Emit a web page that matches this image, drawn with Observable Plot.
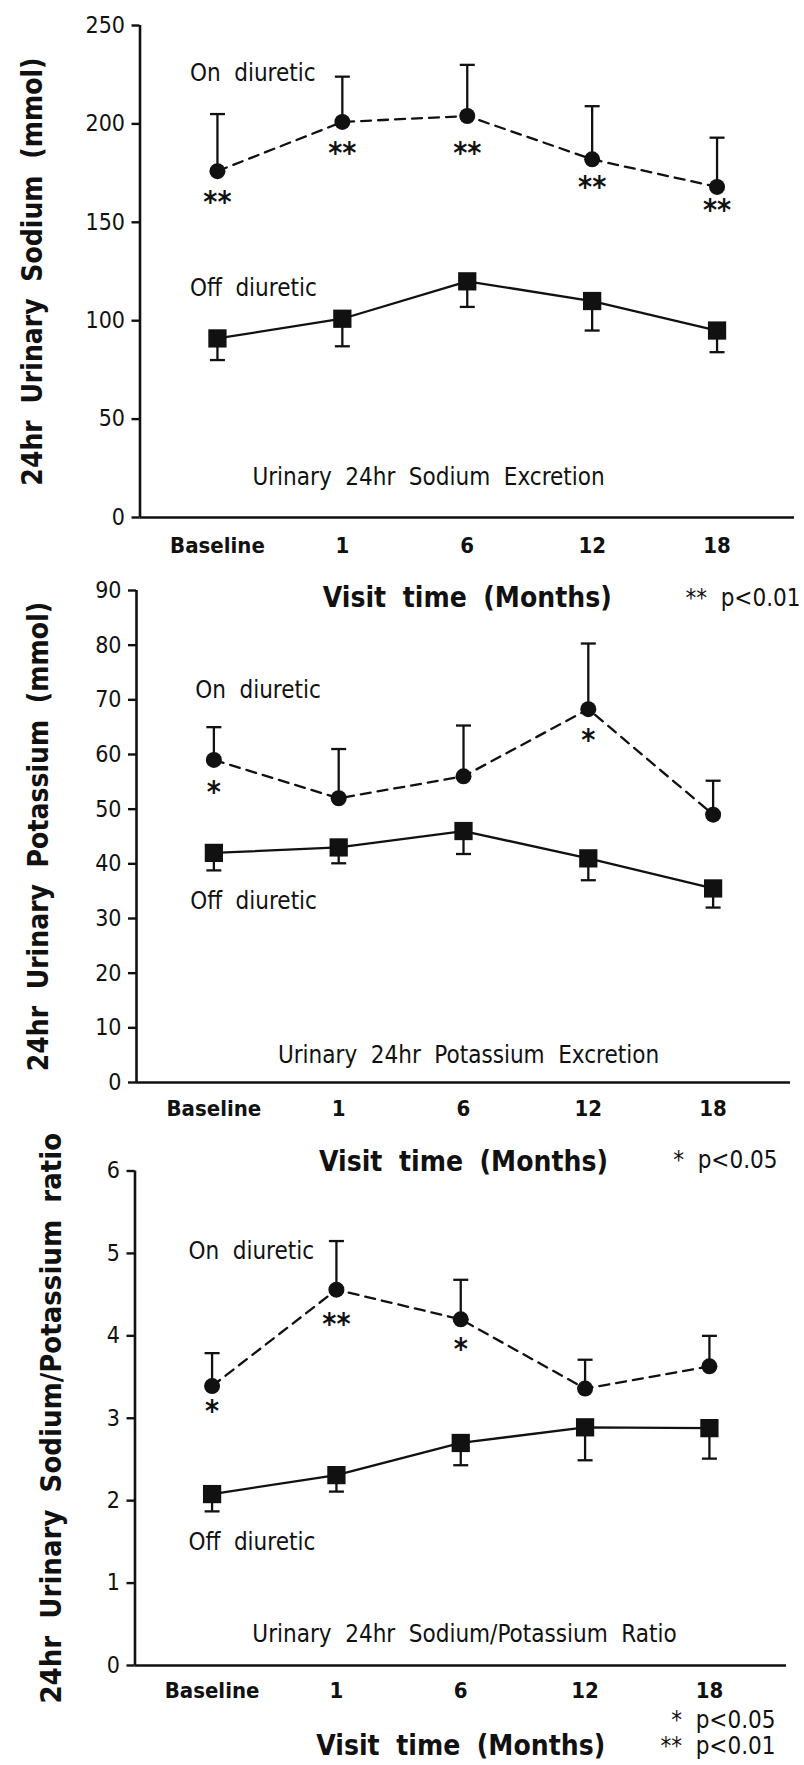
<!DOCTYPE html>
<html><head><meta charset="utf-8">
<script src="https://cdn.jsdelivr.net/npm/d3@7"></script>
<script src="https://cdn.jsdelivr.net/npm/@observablehq/plot@0.6"></script>
<style>
html,body{margin:0;padding:0;background:#fff;}
#wrap{position:relative;width:804px;height:1765px;overflow:hidden;background:#fff;}
#wrap svg{position:absolute;left:0;}
#wrap svg text{word-spacing:0.28em;}
</style></head><body><div id="wrap"></div>
<script>
// ---- categories ----
const months = ["Baseline", "1", "6", "12", "18"];

// ---- Sodium (mmol) ----
const sodiumOn = [176, 201, 204, 182, 168];
const sodiumOnSE = [205, 224, 230, 209, 193];
const sodiumOff = [91, 101, 120, 110, 95];
const sodiumOffSE = [80, 87, 107, 95, 84];
const sodiumSig = ["**", "**", "**", "**", "**"];
const sodiumSigY = [161, 186, 186, 169, 157];
const sodiumTicks = [0, 50, 100, 150, 200, 250];

// ---- Potassium (mmol) ----
const potassiumOn = [59, 52, 56, 68.3, 49];
const potassiumOnSE = [65, 61, 65.3, 80.3, 55.2];
const potassiumOff = [42, 43, 46, 41, 35.5];
const potassiumOffSE = [38.8, 40.1, 41.8, 37, 32];
const potassiumSig = ["*", "", "", "*", ""];
const potassiumSigY = [53.4, null, null, 63, null];
const potassiumTicks = [0, 10, 20, 30, 40, 50, 60, 70, 80, 90];

// ---- Sodium/Potassium ratio ----
const ratioOn = [3.39, 4.56, 4.2, 3.36, 3.63];
const ratioOnSE = [3.79, 5.15, 4.68, 3.71, 4.0];
const ratioOff = [2.08, 2.31, 2.7, 2.89, 2.88];
const ratioOffSE = [1.87, 2.11, 2.43, 2.49, 2.51];
const ratioSig = ["*", "**", "*", "", ""];
const ratioSigY = [3.11, 4.16, 3.86, null, null];
const ratioTicks = [0, 1, 2, 3, 4, 5, 6];

// ---- texts ----
const xTitle = "Visit time (Months)";
const seriesNames = ["On diuretic", "Off diuretic"];
const noteP05 = "* p<0.05";
const noteP01 = "** p<0.01";

const FONT = '"Liberation Sans Narrow","DejaVu Sans Condensed","Roboto Condensed","Liberation Sans",Arial,sans-serif';
const INK = "#111";
const xPad = 0.62;
const capSymbol = {draw(ctx, size) { const r = Math.sqrt(size / Math.PI); ctx.moveTo(-r, 0); ctx.lineTo(r, 0); }};

function panel(cfg) {
  const rows = months.map((m, i) => ({i, on: cfg.on[i], onSE: cfg.onSE[i], off: cfg.off[i], offSE: cfg.offSE[i]}));
  const sig = cfg.sig.map((s, i) => ({i, s, y: cfg.sigY[i]})).filter(d => d.s);
  const yMax = cfg.ticks[cfg.ticks.length - 1];
  const plot = Plot.plot({
    width: 804, height: cfg.height,
    marginTop: cfg.mt, marginBottom: cfg.mb, marginLeft: cfg.ml, marginRight: cfg.mr,
    style: {fontFamily: FONT, background: "transparent", overflow: "visible", color: INK},
    x: {domain: [-xPad, 4 + xPad]},
    y: {domain: [0, yMax]},
    marks: [
      Plot.axisY({ticks: cfg.ticks, tickFormat: d => String(d), tickSize: 8, tickPadding: 7, strokeWidth: 2.4, fontSize: 23, label: null}),
      Plot.axisX({ticks: [0, 1, 2, 3, 4], tickFormat: i => months[i], tickSize: 0, tickPadding: cfg.xtp, fontSize: 22, fontWeight: 600, label: null}),
      Plot.ruleY([0], {strokeWidth: 2.6}),
      Plot.ruleX([-xPad], {y1: 0, y2: yMax, strokeWidth: 2.6}),
      // error bars
      Plot.ruleX(rows, {x: "i", y1: "on", y2: "onSE", strokeWidth: 2.3}),
      Plot.dot(rows, {x: "i", y: "onSE", symbol: capSymbol, r: 7.5, stroke: INK, fill: "none", strokeWidth: 2.3}),
      Plot.ruleX(rows, {x: "i", y1: "off", y2: "offSE", strokeWidth: 2.3}),
      Plot.dot(rows, {x: "i", y: "offSE", symbol: capSymbol, r: 7.5, stroke: INK, fill: "none", strokeWidth: 2.3}),
      // series
      Plot.lineY(rows, {x: "i", y: "on", strokeWidth: 2.3, strokeDasharray: "10,7"}),
      Plot.lineY(rows, {x: "i", y: "off", strokeWidth: 2.3}),
      Plot.dot(rows, {x: "i", y: "on", r: 8, fill: INK}),
      Plot.dot(rows, {x: "i", y: "off", symbol: "square", r: 10.3, fill: INK}),
      // significance
      Plot.text(sig, {x: "i", y: "y", text: "s", fontSize: 30, fontWeight: "bold", dy: 2}),
      // series labels
      Plot.text(cfg.labels, {x: "x", y: "y", text: "t", textAnchor: "start", fontSize: 24}),
      // panel title
      Plot.text([cfg.title], {x: cfg.titleX, y: cfg.titleY, text: d => d, fontSize: 24}),
      // y title
      Plot.text([cfg.yTitle], {frameAnchor: "left", text: d => d, rotate: -90, dx: cfg.yTitleDx, textAnchor: "middle", lineAnchor: "middle", fontSize: cfg.yTitleSize, fontWeight: "bold"}),
      // x title
      Plot.text([xTitle], {frameAnchor: "bottom", text: d => d, dy: cfg.xTitleDy, lineAnchor: "middle", textAnchor: "middle", fontSize: 28, fontWeight: "bold"}),
      // p-value notes
      ...cfg.notes.map(n => Plot.text([n.t], {frameAnchor: "bottom-right", text: d => d, dy: n.dy, dx: cfg.noteDx, textAnchor: "end", lineAnchor: "middle", fontSize: 24}))
    ]
  });
  plot.style.top = cfg.top + "px";
  document.getElementById("wrap").appendChild(plot);
}

panel({
  top: 0, height: 640, mt: 25, mb: 123, ml: 139.5, mr: 10, xtp: 20,
  on: sodiumOn, onSE: sodiumOnSE, off: sodiumOff, offSE: sodiumOffSE,
  sig: sodiumSig, sigY: sodiumSigY, ticks: sodiumTicks,
  labels: [{t: seriesNames[0], x: -0.22, y: 225.7}, {t: seriesNames[1], x: -0.22, y: 116.7}],
  title: "Urinary 24hr Sodium Excretion", titleX: 1.69, titleY: 20.3,
  yTitle: "24hr Urinary Sodium (mmol)", yTitleDx: -106.5, yTitleSize: 28,
  xTitleDy: 81,
  notes: [{t: noteP01, dy: 81}], noteDx: 6
});

panel({
  top: 560, height: 640, mt: 30, mb: 118, ml: 136, mr: 14, xtp: 18,
  on: potassiumOn, onSE: potassiumOnSE, off: potassiumOff, offSE: potassiumOffSE,
  sig: potassiumSig, sigY: potassiumSigY, ticks: potassiumTicks,
  labels: [{t: seriesNames[0], x: -0.15, y: 71.8}, {t: seriesNames[1], x: -0.19, y: 33.1}],
  title: "Urinary 24hr Potassium Excretion", titleX: 2.04, titleY: 4.9,
  yTitle: "24hr Urinary Potassium (mmol)", yTitleDx: -97.5, yTitleSize: 28,
  xTitleDy: 80,
  notes: [{t: noteP05, dy: 78}], noteDx: -13
});

panel({
  top: 1130, height: 635, mt: 40.5, mb: 100, ml: 134.5, mr: 18, xtp: 17,
  on: ratioOn, onSE: ratioOnSE, off: ratioOff, offSE: ratioOffSE,
  sig: ratioSig, sigY: ratioSigY, ticks: ratioTicks,
  labels: [{t: seriesNames[0], x: -0.19, y: 5.03}, {t: seriesNames[1], x: -0.19, y: 1.5}],
  title: "Urinary 24hr Sodium/Potassium Ratio", titleX: 2.03, titleY: 0.38,
  yTitle: "24hr Urinary Sodium/Potassium ratio", yTitleDx: -83.5, yTitleSize: 29,
  xTitleDy: 81,
  notes: [{t: noteP05, dy: 55}, {t: noteP01, dy: 81}], noteDx: -11
});
</script></body></html>
